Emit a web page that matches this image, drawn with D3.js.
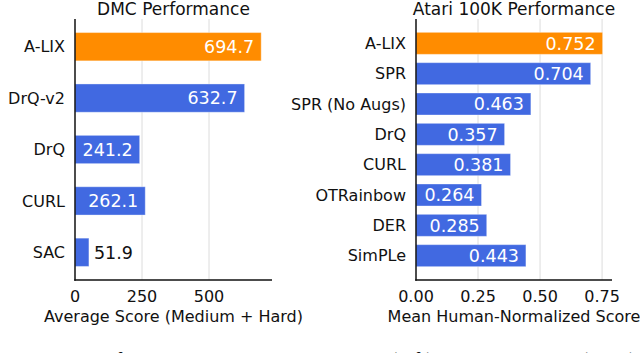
<!DOCTYPE html>
<html>
<head>
<meta charset="utf-8">
<script src="https://cdn.jsdelivr.net/npm/d3@7"></script>
<style>
  html, body { margin: 0; padding: 0; background: #fff; }
  svg { display: block; }
  text { font-family: "DejaVu Sans", Verdana, sans-serif; }
</style>
</head>
<body>
<svg id="chart" width="640" height="353"></svg>
<script>
// ---- data ----
const dmcMethods = ["A-LIX", "DrQ-v2", "DrQ", "CURL", "SAC"];
const dmcScores = [694.7, 632.7, 241.2, 262.1, 51.9];
const dmcTicks = [0, 250, 500];

const atariMethods = ["A-LIX", "SPR", "SPR (No Augs)", "DrQ", "CURL", "OTRainbow", "DER", "SimPLe"];
const atariScores = [0.752, 0.704, 0.463, 0.357, 0.381, 0.264, 0.285, 0.443];
const atariTicks = [0, 0.25, 0.5, 0.75];

const titles = ["DMC Performance", "Atari 100K Performance"];
const xTitles = ["Average Score (Medium + Hard)", "Mean Human-Normalized Score"];
const caption = "Figure 1: Performance comparison in DMC (left) and Atari 100K (right).";

const highlightColor = "#FF8C00";
const baseColor = "#4169E1";

const svg = d3.select("#chart");

function panel(cfg) {
  const g = svg.append("g");
  const x = d3.scaleLinear().domain(cfg.domain).range(cfg.xRange);
  const y = d3.scaleBand().domain(cfg.methods).range([19, 280])
    .paddingInner(cfg.pi).paddingOuter(cfg.po);
  const data = cfg.methods.map((m, i) => ({ m, v: cfg.values[i], i }));

  // gridlines
  g.selectAll(".grid").data(cfg.ticks.filter(t => t !== 0)).join("line")
    .attr("x1", d => x(d)).attr("x2", d => x(d))
    .attr("y1", 19).attr("y2", 280)
    .attr("stroke", "#dcdcdc").attr("stroke-width", 1);

  // bars
  g.selectAll(".bar").data(data).join("rect")
    .attr("x", x(0))
    .attr("y", d => y(d.m))
    .attr("width", d => x(d.v) - x(0))
    .attr("height", y.bandwidth())
    .attr("fill", d => d.i === 0 ? highlightColor : baseColor)
    .attr("stroke", "rgba(255,255,255,0.35)")
    .attr("stroke-width", 1);

  // value labels
  g.selectAll(".val").data(data).join("text")
    .attr("y", d => y(d.m) + y.bandwidth() / 2)
    .attr("dy", "0.36em")
    .attr("font-size", "17.5px")
    .each(function(d) {
      const w = x(d.v) - x(0);
      const inside = w > 60;
      d3.select(this)
        .attr("x", inside ? x(d.v) - 7 : x(d.v) + 5)
        .attr("text-anchor", inside ? "end" : "start")
        .attr("fill", inside ? "#fff" : "#111");
    })
    .text(d => cfg.fmt(d.v));

  // category labels
  g.selectAll(".cat").data(data).join("text")
    .attr("x", x(0) - 10)
    .attr("y", d => y(d.m) + y.bandwidth() / 2)
    .attr("dy", "0.36em")
    .attr("text-anchor", "end")
    .attr("font-size", "16px")
    .attr("fill", "#111")
    .text(d => d.m);

  // axes lines
  g.append("line")
    .attr("x1", x(0)).attr("x2", x(0)).attr("y1", 19).attr("y2", 280.75)
    .attr("stroke", "#111").attr("stroke-width", 1.5);
  g.append("line")
    .attr("x1", x(0) - 0.75).attr("x2", cfg.xRange[1]).attr("y1", 280).attr("y2", 280)
    .attr("stroke", "#111").attr("stroke-width", 1.5);

  // tick labels
  g.selectAll(".tick").data(cfg.ticks).join("text")
    .attr("x", d => x(d))
    .attr("y", 302)
    .attr("text-anchor", "middle")
    .attr("font-size", "16px")
    .attr("fill", "#111")
    .text(cfg.tickFmt);

  const cx = (cfg.xRange[0] + cfg.xRange[1]) / 2;
  g.append("text").attr("x", cx).attr("y", 322)
    .attr("text-anchor", "middle").attr("font-size", "16px").attr("fill", "#111")
    .text(cfg.xTitle);
  g.append("text").attr("x", cx).attr("y", 14.5)
    .attr("text-anchor", "middle").attr("font-size", "17px").attr("fill", "#111")
    .text(cfg.title);
}

panel({
  methods: dmcMethods, values: dmcScores, ticks: dmcTicks,
  domain: [0, 735], xRange: [75, 272], pi: 0.45, po: 0.264,
  fmt: d3.format(".1f"), tickFmt: d3.format("d"),
  title: titles[0], xTitle: xTitles[0]
});
panel({
  methods: atariMethods, values: atariScores, ticks: atariTicks,
  domain: [0, 0.79], xRange: [416, 612], pi: 0.275, po: 0.44,
  fmt: d3.format(".3f"), tickFmt: d3.format(".2f"),
  title: titles[1], xTitle: xTitles[1]
});

svg.append("text")
  .attr("x", 0).attr("y", 367)
  .attr("font-size", "22px").attr("fill", "#111")
  .style("font-family", "'Liberation Serif', serif")
  .text(caption);
</script>
</body>
</html>
